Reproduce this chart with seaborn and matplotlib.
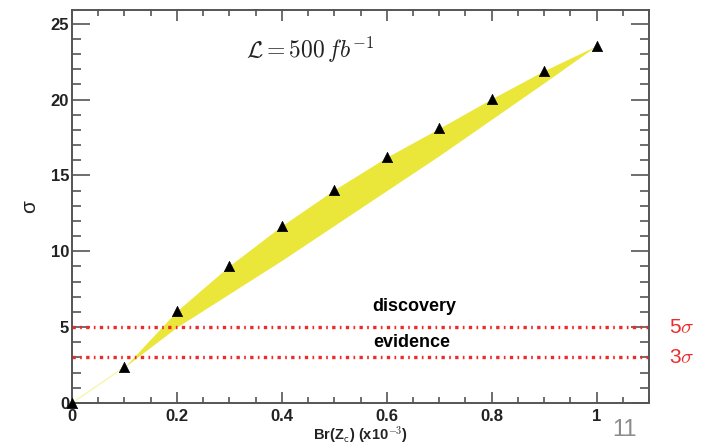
import matplotlib
matplotlib.use("Agg")
import matplotlib.pyplot as plt
from matplotlib.ticker import MultipleLocator, FixedLocator
import seaborn as sns
import pandas as pd

# Branching ratio (x10^-3) and expected significance
br = [0.0, 0.1, 0.2, 0.3, 0.4, 0.5, 0.6, 0.7, 0.8, 0.9, 1.0]
significance = [0.0, 2.37, 6.07, 9.04, 11.68, 14.05, 16.2, 18.1, 20.05, 21.9, 23.55]

# Uncertainty band (upper edge follows the central points)
band_x = [0.1, 0.2, 0.3, 0.4, 0.5, 0.6, 0.7, 0.8, 0.9, 1.0]
band_upper = [2.37, 6.07, 9.04, 11.68, 14.05, 16.2, 18.1, 20.05, 21.9, 23.55]
band_lower = [2.37, 5.0, 7.2, 9.4, 11.7, 14.0, 16.3, 18.7, 21.1, 23.55]

# Reference significance thresholds
thresholds = [5, 3]
threshold_labels = ["5$\\sigma$", "3$\\sigma$"]
region_labels = ["discovery", "evidence"]

x_ticks = [0, 0.2, 0.4, 0.6, 0.8, 1.0]
x_tick_labels = ["0", "0.2", "0.4", "0.6", "0.8", "1"]
y_ticks = [0, 5, 10, 15, 20, 25]

sns.set_style("white")
plt.rcParams["font.family"] = ["Liberation Sans", "DejaVu Sans"]
plt.rcParams["mathtext.fontset"] = "cm"

fig = plt.figure(figsize=(7.02, 4.45), dpi=100)
ax = fig.add_axes([72 / 702, 42 / 445, 577 / 702, 393 / 445])

axis_col = "#555555"
yellow = "#ebe73a"
red = "#ee2a2a"

# Band
ax.fill_between(band_x, band_lower, band_upper, color=yellow, linewidth=0, zorder=1)
ax.plot(br[:2], significance[:2], color=yellow, alpha=0.35, linewidth=1.2, zorder=1)

# Threshold lines
for t in thresholds:
    ax.axhline(t, color=red, linewidth=2.4,
               linestyle=(0, (1.0, 1.3, 0.5, 1.3)), zorder=2)

# Central points
df = pd.DataFrame({"br": br, "sig": significance})
sns.scatterplot(data=df, x="br", y="sig", marker="^", color="black", s=55,
                edgecolor="black", linewidth=0.5, ax=ax, zorder=5, clip_on=False)

ax.set_xlim(0, 1.1)
ax.set_ylim(0, 25.9)

ax.xaxis.set_major_locator(FixedLocator(x_ticks))
ax.set_xticklabels(x_tick_labels)
ax.xaxis.set_minor_locator(MultipleLocator(0.05))
ax.yaxis.set_major_locator(FixedLocator(y_ticks))
ax.yaxis.set_minor_locator(MultipleLocator(1))

ax.tick_params(axis="x", which="major", direction="in", length=8, width=1.2,
               color=axis_col, top=True, bottom=True, labelsize=12, pad=4)
ax.tick_params(axis="x", which="minor", direction="in", length=4.3, width=1.2,
               color=axis_col, top=True, bottom=True)
ax.tick_params(axis="y", which="major", direction="in", length=13, width=1.2,
               color=axis_col, left=True, right=True, labelsize=12, pad=2)
ax.tick_params(axis="y", which="minor", direction="in", length=6.5, width=1.2,
               color=axis_col, left=True, right=True)
for lab in ax.get_xticklabels() + ax.get_yticklabels():
    lab.set_fontweight("bold")
    lab.set_color("#222222")

for sp in ax.spines.values():
    sp.set_visible(True)
    sp.set_color(axis_col)
    sp.set_linewidth(1.4)

ax.set_xlabel("Br(Z$_{\\mathsf{c}}$) (x10$^{\\mathsf{-3}}$)", fontsize=10.5,
              fontweight="bold", color="#222222")
ax.xaxis.label.set_va("center")
ax.xaxis.set_label_coords((361 - 72) / 577, -(435 - 403) / 393)
ax.set_ylabel("σ", fontsize=15, color="#222222")
ax.yaxis.label.set_va("center")
ax.yaxis.set_label_coords(-(72 - 30) / 577, (403 - 207) / 393)

ax.text(0.453, 23.3, "$\\mathcal{L} = 500\\, fb^{-1}$", fontsize=17,
        ha="center", va="center", color="#222222")

ax.text(0.653, 6.33, region_labels[0], fontsize=13, fontweight="bold",
        ha="center", va="center", color="black")
ax.text(0.648, 4.0, region_labels[1], fontsize=13, fontweight="bold",
        ha="center", va="center", color="black")

for t, lab in zip(thresholds, threshold_labels):
    ax.text(1.162, t, lab, fontsize=15, color=red, ha="center", va="center",
            clip_on=False)

fig.text(625 / 702, 1 - 430 / 445, "11", fontsize=17, color="#8c8c8c",
         ha="center", va="center")

fig.savefig("out.png", dpi=100)
